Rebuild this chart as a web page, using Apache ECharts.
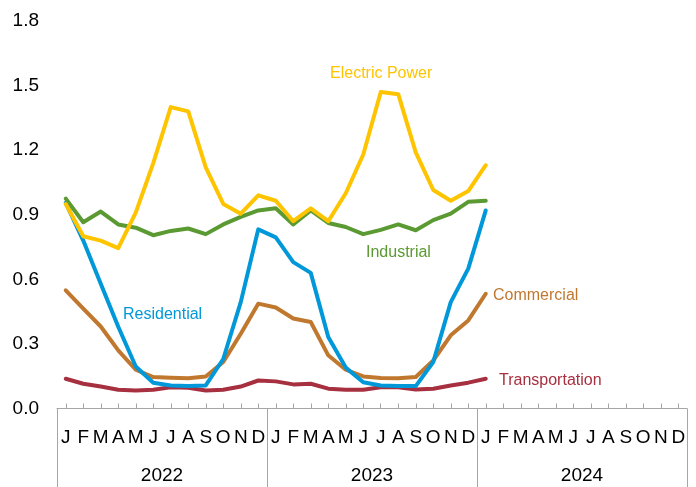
<!DOCTYPE html>
<html>
<head>
<meta charset="utf-8">
<script src="https://cdn.jsdelivr.net/npm/echarts@6/dist/echarts.min.js"></script>
<style>
html,body{margin:0;padding:0;background:#fff;}
#chart{width:696px;height:487px;}
</style>
</head>
<body>
<div id="chart"></div>
<script>
const monthLetters = ['J','F','M','A','M','J','J','A','S','O','N','D'];
const years = ['2022','2023','2024'];
const yTicks = [0, 0.3, 0.6, 0.9, 1.2, 1.5, 1.8];

const electricPower = [0.95,0.80,0.78,0.745,0.91,1.14,1.40,1.38,1.12,0.95,0.905,0.99,0.965,0.87,0.93,0.87,1.00,1.18,1.47,1.46,1.19,1.015,0.965,1.01,1.13];
const industrial    = [0.975,0.865,0.915,0.855,0.84,0.805,0.825,0.836,0.81,0.855,0.89,0.92,0.93,0.855,0.92,0.862,0.843,0.81,0.83,0.855,0.828,0.875,0.905,0.96,0.965];
const residential   = [0.955,0.78,0.58,0.38,0.195,0.12,0.107,0.104,0.107,0.23,0.494,0.832,0.795,0.68,0.63,0.332,0.19,0.122,0.107,0.104,0.104,0.216,0.494,0.65,0.92];
const commercial    = [0.549,0.464,0.381,0.27,0.18,0.146,0.143,0.14,0.149,0.216,0.347,0.487,0.469,0.418,0.402,0.247,0.18,0.149,0.142,0.141,0.146,0.223,0.34,0.409,0.533];
const transportation= [0.138,0.115,0.102,0.087,0.084,0.087,0.099,0.096,0.084,0.087,0.102,0.13,0.126,0.112,0.115,0.092,0.087,0.087,0.099,0.099,0.088,0.092,0.107,0.12,0.138];

const categories = [];
years.forEach(y => monthLetters.forEach((m, i) => categories.push(y + '-' + (i + 1))));

const colors = {
  electric: '#FFC400',
  industrial: '#5B9A32',
  residential: '#0098D8',
  commercial: '#C0782F',
  transportation: '#A6303F'
};

const chart = echarts.init(document.getElementById('chart'), null, {renderer: 'canvas'});
const FONT = 'Liberation Sans, Arial, sans-serif';

function lineSeries(name, data, color) {
  return {
    name: name, type: 'line', data: data, xAxisIndex: 0, yAxisIndex: 0,
    symbol: 'none', smooth: false, animation: false,
    lineStyle: {width: 4, color: color, cap: 'round', join: 'round'},
    itemStyle: {color: color}
  };
}

chart.setOption({
  animation: false,
  grid: {left: 57, right: 9, top: 21, bottom: 78.5, containLabel: false},
  xAxis: [
    {
      type: 'category', data: categories, boundaryGap: true, position: 'bottom',
      axisLine: {show: true, lineStyle: {color: '#a6a6a6', width: 1}},
      axisTick: {show: true, inside: true, length: 5, alignWithLabel: true, lineStyle: {color: '#a6a6a6'}},
      axisLabel: {
        interval: 0, margin: 20, color: '#000', fontSize: 19, fontFamily: FONT,
        formatter: v => monthLetters[parseInt(v.split('-')[1], 10) - 1]
      },
      splitLine: {show: false}
    },
    {
      type: 'category', data: years, boundaryGap: true, position: 'bottom',
      axisLine: {show: false},
      axisTick: {show: true, inside: false, length: 80, interval: 0, lineStyle: {color: '#a6a6a6'}},
      axisLabel: {interval: 0, margin: 58, color: '#000', fontSize: 19, fontFamily: FONT},
      splitLine: {show: false}
    }
  ],
  yAxis: {
    type: 'value', min: 0, max: 1.8, interval: 0.3,
    axisLine: {show: false}, axisTick: {show: false}, splitLine: {show: false},
    axisLabel: {margin: 18, color: '#000', fontSize: 19, fontFamily: FONT, formatter: v => v.toFixed(1)}
  },
  series: [
    lineSeries('Transportation', transportation, colors.transportation),
    lineSeries('Commercial', commercial, colors.commercial),
    lineSeries('Residential', residential, colors.residential),
    lineSeries('Industrial', industrial, colors.industrial),
    lineSeries('Electric Power', electricPower, colors.electric)
  ],
  graphic: [
    {type: 'text', left: 330, top: 66, style: {text: 'Electric Power', fill: colors.electric, font: '16px ' + FONT}},
    {type: 'text', left: 366, top: 245, style: {text: 'Industrial', fill: colors.industrial, font: '16px ' + FONT}},
    {type: 'text', left: 123, top: 307, style: {text: 'Residential', fill: colors.residential, font: '16px ' + FONT}},
    {type: 'text', left: 493, top: 288, style: {text: 'Commercial', fill: colors.commercial, font: '16px ' + FONT}},
    {type: 'text', left: 499, top: 373, style: {text: 'Transportation', fill: colors.transportation, font: '16px ' + FONT}}
  ]
});
</script>
</body>
</html>
